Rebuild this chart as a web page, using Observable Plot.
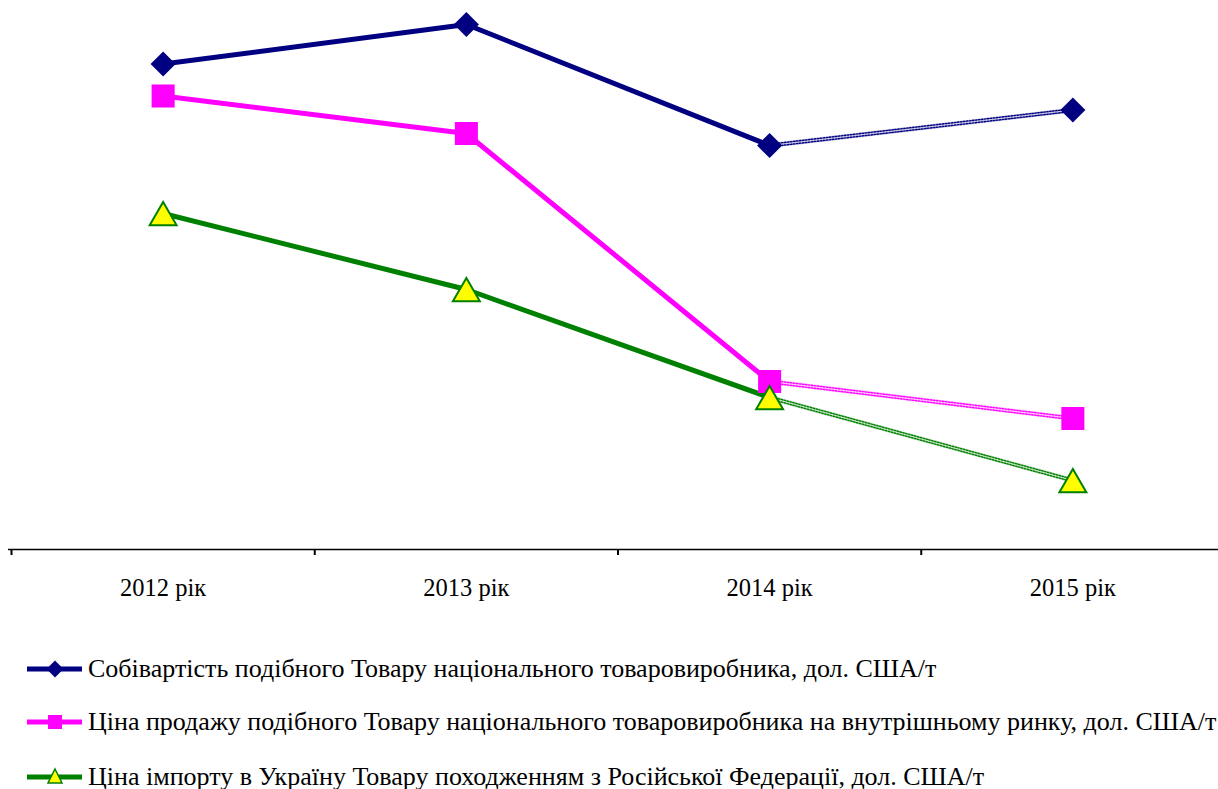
<!DOCTYPE html>
<html>
<head>
<meta charset="utf-8">
<script src="https://cdn.jsdelivr.net/npm/d3@7"></script>
<script src="https://cdn.jsdelivr.net/npm/@observablehq/plot@0.6"></script>
<style>
  html, body { margin: 0; padding: 0; background: #fff; }
  #wrap { position: relative; width: 1218px; height: 789px; overflow: hidden; font-family: "Liberation Serif", "Times New Roman", serif; }
  .leg { position: absolute; left: 0; height: 34px; width: 1218px; white-space: nowrap; overflow: hidden; }
  .leg svg { position: absolute; left: 25px; top: 2px; }
  .leg span { position: absolute; left: 88px; top: 0; line-height: 34px; font-size: 26px; color: #000; }
</style>
</head>
<body>
<div id="wrap"></div>
<script>
const years = [2012, 2013, 2014, 2015];
const yearLabels = ["2012 рік", "2013 рік", "2014 рік", "2015 рік"];
const seriesNames = [
  "Собівартість подібного Товару національного товаровиробника, дол. США/т",
  "Ціна продажу подібного Товару національного товаровиробника на внутрішньому ринку, дол. США/т",
  "Ціна імпорту в Україну Товару походженням з Російської Федерації, дол. США/т"
];
const costValues   = [971, 1050, 808, 879];
const saleValues   = [907, 832, 336, 262];
const importValues = [672, 520, 304, 138];
const colors = ["#000080", "#FF00FF", "#008000"];

const allValues = [costValues, saleValues, importValues];
const rows = [];
allValues.forEach((vals, si) => {
  vals.forEach((v, i) => rows.push({series: seriesNames[si], si, year: years[i], value: v, i}));
});
const solid = rows.filter(d => d.i <= 2);
const dashed = rows.filter(d => d.i >= 2);
const boundaries = [years[0] - 0.5, ...years.map(y => y + 0.5)];
const colorScale = {domain: seriesNames, range: colors};

const plot = Plot.plot({
  width: 1218,
  height: 630,
  marginTop: 0,
  marginBottom: 81,
  marginLeft: 11,
  marginRight: 0,
  x: {domain: [years[0] - 0.5, years[years.length - 1] + 0.5], range: [11, 1224], label: null},
  y: {domain: [0, 1098], axis: null},
  color: colorScale,
  style: {fontFamily: "'Liberation Serif', 'Times New Roman', serif", background: "#fff", overflow: "visible"},
  marks: [
    Plot.ruleY([0], {x1: boundaries[0] - 0.01, x2: boundaries[boundaries.length - 1], stroke: "#000", strokeWidth: 1.5}),
    Plot.axisX({ticks: boundaries, tickFormat: () => "", tickSize: 6, strokeWidth: 2, stroke: "#000", label: null}),
    Plot.axisX({ticks: years, tickSize: 0, tickPadding: 29, tickFormat: (d) => yearLabels[years.indexOf(d)], fontSize: 24.5, fill: "#000", label: null}),
    Plot.line(dashed, {x: "year", y: "value", z: "series", stroke: "series", strokeWidth: 5, strokeOpacity: 0.22}),
    Plot.line(dashed, {x: "year", y: "value", z: "series", stroke: "series", strokeWidth: 1.4, strokeDasharray: "1.5 1.5", dy: -1.3}),
    Plot.line(dashed, {x: "year", y: "value", z: "series", stroke: "series", strokeWidth: 1.4, strokeDasharray: "1.5 1.5", dy: 1.3}),
    Plot.line(solid, {x: "year", y: "value", z: "series", stroke: "series", strokeWidth: 5}),
    Plot.dot(rows.filter(d => d.si === 0), {x: "year", y: "value", symbol: "square", r: 10, rotate: 45, fill: colors[0], stroke: "none"}),
    Plot.dot(rows.filter(d => d.si === 1), {x: "year", y: "value", symbol: "square", r: 13, fill: colors[1], stroke: "none"}),
    Plot.dot(rows.filter(d => d.si === 2), {x: "year", y: "value", symbol: "triangle", r: 10, dy: 4, fill: "#FFFF00", stroke: colors[2], strokeWidth: 2})
  ]
});

const wrap = document.getElementById("wrap");
wrap.appendChild(plot);

// Legend
const legendTops = [652, 705, 760];
seriesNames.forEach((name, si) => {
  const row = document.createElement("div");
  row.className = "leg";
  row.style.top = legendTops[si] + "px";
  const svg = d3.create("svg").attr("width", 60).attr("height", 30);
  svg.append("line").attr("x1", 2).attr("x2", 57).attr("y1", 15).attr("y2", 15)
    .attr("stroke", colors[si]).attr("stroke-width", 5);
  if (si === 0) {
    svg.append("rect").attr("x", -6).attr("y", -6).attr("width", 12).attr("height", 12)
      .attr("transform", "translate(30,15) rotate(45)").attr("fill", colors[0]);
  } else if (si === 1) {
    svg.append("rect").attr("x", 23).attr("y", 8).attr("width", 14).attr("height", 14).attr("fill", colors[1]);
  } else {
    svg.append("path").attr("d", "M30,7 L37,21 L23,21 Z").attr("fill", "#FFFF00")
      .attr("stroke", colors[2]).attr("stroke-width", 1.5);
  }
  row.appendChild(svg.node());
  const span = document.createElement("span");
  span.textContent = name;
  row.appendChild(span);
  wrap.appendChild(row);
});
</script>
</body>
</html>
